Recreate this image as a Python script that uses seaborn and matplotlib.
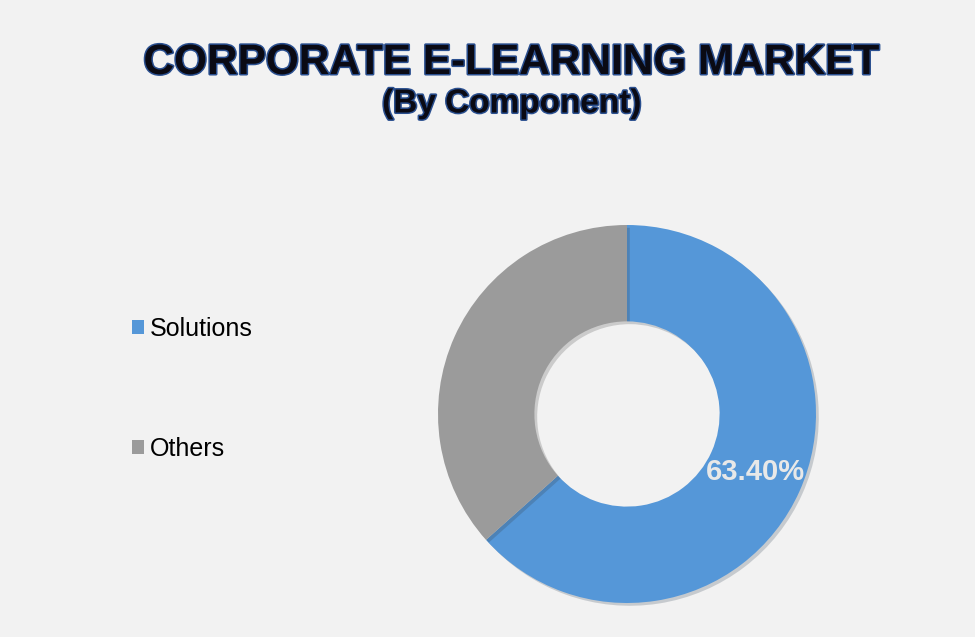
import matplotlib.pyplot as plt
import matplotlib.patheffects as pe
from matplotlib.patches import Patch
import seaborn as sns

# Data
components = ['Solutions', 'Others']
shares = [63.4, 36.6]
colors = ['#5597d8', '#9b9b9b']

sns.set_style('white')
plt.rcParams['font.family'] = ['Liberation Sans', 'DejaVu Sans']

fig = plt.figure(figsize=(9.75, 6.37), dpi=100)
fig.patch.set_facecolor('#f2f2f2')

# donut centred at (627, 414) px, outer radius ~189 px
ax = fig.add_axes([(627 - 189) / 975, (637 - 414 - 189) / 637, 378 / 975, 378 / 637])
ax.set_facecolor('#f2f2f2')

wedges, texts, autotexts = ax.pie(
    shares, colors=colors, startangle=90, counterclock=False,
    wedgeprops=dict(width=0.51, edgecolor='none'),
    autopct=lambda p: f'{p:.2f}%' if p > 50 else '',
    pctdistance=0.745, radius=1)
for w in wedges:
    w.set_path_effects([pe.SimplePatchShadow(offset=(2, -2), alpha=0.2), pe.Normal()])
for t in autotexts:
    t.set_color('#e8e8e8')
    t.set_fontsize(21)
    t.set_fontweight('bold')
ax.set_xlim(-1, 1)
ax.set_ylim(-1, 1)
ax.set_aspect('equal')
ax.axis('off')

outline = [pe.withStroke(linewidth=2.2, foreground='#2a4f8f')]
fig.text(512 / 975, 1 - 63 / 637, 'CORPORATE E-LEARNING MARKET', ha='center', va='center',
         fontsize=30.5, fontweight='bold', color='#0a0a14', path_effects=outline)
fig.text(512 / 975, 1 - 104 / 637, '(By Component)', ha='center', va='center',
         fontsize=24, fontweight='bold', color='#0a0a14', path_effects=outline)

handles = [Patch(facecolor=c, edgecolor='none') for c in colors]
fig.legend(handles, components, loc='upper left', bbox_to_anchor=(109 / 975, 1 - 294 / 637),
           frameon=False, fontsize=18, handlelength=0.5, handleheight=0.5,
           handletextpad=0.25, labelspacing=3.85, labelcolor='black')

plt.savefig('out.png', dpi=100, facecolor=fig.get_facecolor())
